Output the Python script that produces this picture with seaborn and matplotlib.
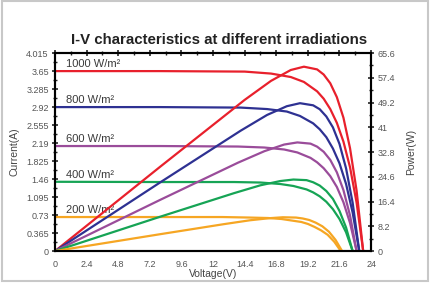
import numpy as np
import matplotlib
matplotlib.use("Agg")
import matplotlib.pyplot as plt
import matplotlib.patches as patches
from matplotlib.ticker import MultipleLocator
import seaborn as sns

# I-V curves (left axis), voltage in V, current in A
v_1000 = [0, 8, 14.4, 16.4, 17.9, 18.9, 19.9, 20.4, 20.9, 21.4, 21.9, 22.4, 22.9, 23.4]
i_1000 = [3.65, 3.65, 3.64, 3.60, 3.53, 3.43, 3.24, 3.09, 2.88, 2.60, 2.22, 1.70, 0.98, 0]
v_800 = [0, 8, 14.1, 16.1, 17.6, 18.6, 19.6, 20.1, 20.6, 21.1, 21.6, 22.1, 22.6, 23.1]
i_800 = [2.92, 2.92, 2.91, 2.88, 2.83, 2.74, 2.59, 2.47, 2.31, 2.08, 1.78, 1.36, 0.78, 0]
v_600 = [0, 8, 13.9, 15.9, 17.4, 18.4, 19.4, 19.9, 20.4, 20.9, 21.4, 21.9, 22.4, 22.9]
i_600 = [2.13, 2.13, 2.12, 2.10, 2.06, 2.00, 1.89, 1.80, 1.68, 1.52, 1.30, 0.99, 0.57, 0]
v_400 = [0, 8, 13.6, 15.6, 17.1, 18.1, 19.1, 19.6, 20.1, 20.6, 21.1, 21.6, 22.1, 22.6]
i_400 = [1.405, 1.40, 1.40, 1.39, 1.36, 1.32, 1.25, 1.19, 1.11, 1.00, 0.85, 0.65, 0.38, 0]
v_200 = [0, 8, 12.7, 14.7, 16.2, 17.2, 18.2, 18.7, 19.2, 19.7, 20.2, 20.7, 21.2, 21.7]
i_200 = [0.69, 0.69, 0.69, 0.68, 0.67, 0.65, 0.61, 0.59, 0.55, 0.49, 0.42, 0.33, 0.19, 0]

# P-V curves (right axis), power in W
pv_1000 = [0, 8, 14.4, 16.4, 17.9, 18.9, 19.9, 20.4, 20.9, 21.4, 21.9, 22.4, 22.9, 23.4]
p_1000 = [0, 28.0, 50.1, 56.4, 60.0, 61.1, 60.2, 58.5, 55.6, 51.0, 44.2, 34.1, 20.0, 0]
pv_800 = [0, 8, 14.1, 16.1, 17.6, 18.6, 19.6, 20.1, 20.6, 21.1, 21.6, 22.1, 22.6, 23.1]
p_800 = [0, 22.8, 39.9, 45.1, 48.0, 49.0, 48.3, 47.0, 44.6, 41.0, 35.5, 27.4, 16.0, 0]
pv_600 = [0, 8, 13.9, 15.9, 17.4, 18.4, 19.4, 19.9, 20.4, 20.9, 21.4, 21.9, 22.4, 22.9]
p_600 = [0, 17.0, 29.3, 33.1, 35.3, 36.0, 35.6, 34.6, 32.9, 30.2, 26.1, 20.2, 11.8, 0]
pv_400 = [0, 8, 13.6, 15.6, 17.1, 18.1, 19.1, 19.6, 20.1, 20.6, 21.1, 21.6, 22.1, 22.6]
p_400 = [0, 11.4, 19.2, 21.8, 23.2, 23.7, 23.5, 22.8, 21.7, 19.9, 17.3, 13.3, 7.8, 0]
pv_200 = [0, 8, 12.8, 14.8, 16.3, 17.3, 18.3, 18.8, 19.3, 19.8, 20.3, 20.8, 21.3, 21.8]
p_200 = [0, 5.6, 8.9, 10.2, 10.9, 11.2, 11.1, 10.8, 10.3, 9.4, 8.2, 6.4, 3.7, 0]

labels = ["1000 W/m²", "800 W/m²", "600 W/m²", "400 W/m²", "200 W/m²"]
colors = ["#e8202c", "#2e3192", "#9a4c9a", "#16a455", "#f6a623"]

current_ticks = [0, 0.365, 0.73, 1.095, 1.46, 1.825, 2.19, 2.555, 2.92, 3.285, 3.65, 4.015]
current_labels = ["0", "0.365", "0.73", "1.095", "1.46", "1.825", "2.19", "2.555", "2.92", "3.285", "3.65", "4.015"]
power_ticks = [0, 8.2, 16.4, 24.6, 32.8, 41, 49.2, 57.4, 65.6]
power_labels = ["0", "8.2", "16.4", "24.6", "32.8", "41", "49.2", "57.4", "65.6"]
volt_ticks = [0, 2.4, 4.8, 7.2, 9.6, 12, 14.4, 16.8, 19.2, 21.6, 24]
volt_labels = ["0", "2.4", "4.8", "7.2", "9.6", "12", "14.4", "16.8", "19.2", "21.6", "24"]

sns.set_style("white")
plt.rcParams["font.family"] = ["Liberation Sans", "DejaVu Sans"]

fig = plt.figure(figsize=(4.3, 2.84), dpi=100)
ax = fig.add_axes([0.128, 0.116, 0.735, 0.697])
ax2 = ax.twinx()

iv = [(v_1000, i_1000), (v_800, i_800), (v_600, i_600), (v_400, i_400), (v_200, i_200)]
pv = [(pv_1000, p_1000), (pv_800, p_800), (pv_600, p_600), (pv_400, p_400), (pv_200, p_200)]

for (v, i), col in zip(iv, colors):
    sns.lineplot(x=v, y=i, ax=ax, color=col, linewidth=1.6, sort=False)
for (v, p), col in zip(pv, colors):
    sns.lineplot(x=v, y=p, ax=ax2, color=col, linewidth=1.6, sort=False)

# irradiance labels above the flat part of each I-V curve
for (v, i), lab in zip(iv, labels):
    ax.text(0.85, i[0] + 0.035, lab, fontsize=8, color="#3a3a3a", va="bottom", ha="left")

ax.set_xlim(0, 24)
ax.set_ylim(0, 4.015)
ax2.set_ylim(0, 65.6)

ax.set_xticks(volt_ticks)
ax.set_xticklabels(volt_labels)
ax.xaxis.set_minor_locator(MultipleLocator(1.2))
ax.set_yticks(current_ticks)
ax.set_yticklabels(current_labels)
ax.yaxis.set_minor_locator(MultipleLocator(0.1825))
ax2.set_yticks(power_ticks)
ax2.set_yticklabels(power_labels)
ax2.yaxis.set_minor_locator(MultipleLocator(4.1))

ax.tick_params(axis="both", which="major", direction="inout", length=5, width=1.2,
               labelsize=6.5, labelcolor="#555555", pad=2, top=True)
ax.tick_params(axis="both", which="minor", direction="inout", length=3, width=1, top=True)
ax.tick_params(axis="x", which="major", pad=4)
ax2.tick_params(axis="y", which="major", direction="inout", length=5, width=1.2,
                labelsize=6.5, labelcolor="#555555", pad=2)
ax2.tick_params(axis="y", which="minor", direction="inout", length=3, width=1)

for a in (ax, ax2):
    for s in a.spines.values():
        s.set_color("black")
        s.set_linewidth(1.5)

ax.set_xlabel("Voltage(V)", fontsize=7.5, color="#444444", labelpad=0)
ax.set_ylabel("Current(A)", fontsize=7.5, color="#444444", labelpad=5)
ax2.set_ylabel("Power(W)", fontsize=7.5, color="#444444", labelpad=8)

fig.text(0.51, 0.86, "I-V characteristics at different irradiations", ha="center",
         va="center", fontsize=10.8, fontweight="bold", color="#222222")

fig.patches.append(patches.Rectangle((0.004, 0.01), 0.992, 0.985, transform=fig.transFigure,
                                     fill=False, edgecolor="#c8c8c8", linewidth=1.5))

fig.savefig("out.png", dpi=100)
